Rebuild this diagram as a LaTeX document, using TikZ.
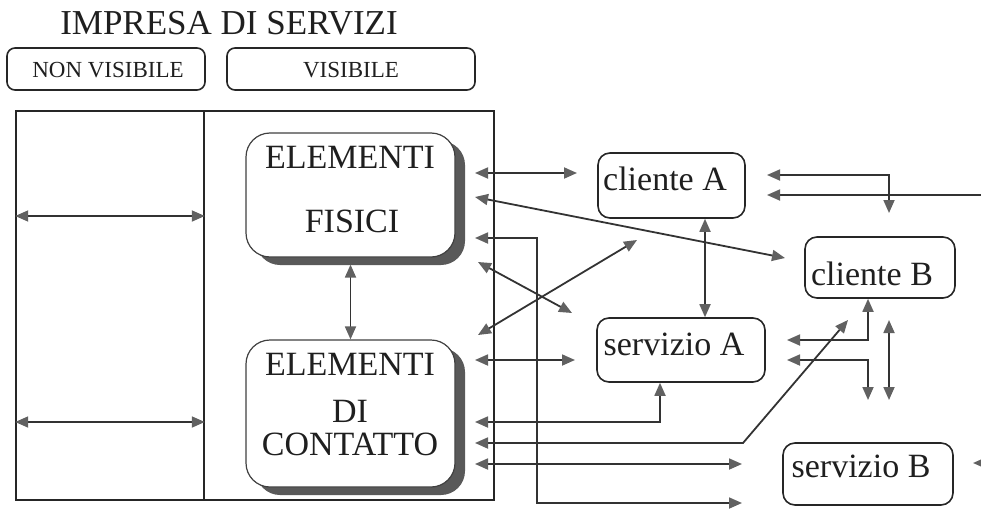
\documentclass[tikz,border=0pt]{standalone}
\usepackage{fontspec}
\setmainfont{Liberation Serif}
\usetikzlibrary{arrows.meta,calc}
\begin{document}
\begin{tikzpicture}[x=1pt,y=-1pt,
  >={Triangle[length=13pt,width=11pt,color=black!62]},
  ln/.style={draw=black!80, line width=1.8pt},
  frame/.style={draw=black!85, line width=1.6pt, inner sep=0pt},
  lbox/.style={draw=black!85, line width=1.6pt, rounded corners=8pt, inner sep=0pt},
  cbox/.style={draw=black!85, line width=1.6pt, rounded corners=12pt, fill=white, inner sep=0pt},
  ebox/.style={draw=black!75, line width=1.2pt, rounded corners=24pt, fill=white, inner sep=0pt},
  shadowfill/.style={fill=black!65, rounded corners=24pt},
  title/.style={font=\fontsize{35}{42}\selectfont, text=black!88, anchor=base, inner sep=0pt},
  big/.style={font=\fontsize{34}{40}\selectfont, text=black!88, anchor=base, inner sep=0pt},
  small/.style={font=\fontsize{23}{27}\selectfont, text=black!88, anchor=base, inner sep=0pt},
]
\useasboundingbox (0,0) rectangle (981,511);

% title and header boxes
\node[title] (ttl) at (229,35) {IMPRESA DI SERVIZI};
\node[lbox, minimum width=198pt, minimum height=42pt] (nvbox) at (106,69) {};
\node[small] (nvtxt) at (108,77) {NON VISIBILE};
\node[lbox, minimum width=248pt, minimum height=42pt] (vbox) at (351,69) {};
\node[small] (vtxt) at (351,77) {VISIBILE};

% outer frame: two columns
\node[frame, minimum width=188pt, minimum height=389pt] (ncol) at (110,305.5) {};
\node[frame, minimum width=290pt, minimum height=389pt] (vcol) at (349,305.5) {};

% element boxes with shadows
\fill[shadowfill] (256,141) rectangle (465,265);
\node[ebox, minimum width=209pt, minimum height=124pt] (ef) at (350.5,195) {};
\node[big] (ef1) at (350,168) {ELEMENTI};
\node[big] (ef2) at (352,232) {FISICI};

\fill[shadowfill] (256,348) rectangle (465,495);
\node[ebox, minimum width=209pt, minimum height=147pt] (ec) at (350.5,413.5) {};
\node[big] (ec1) at (350,375) {ELEMENTI};
\node[big] (ec2) at (350,422) {DI};
\node[big] (ec3) at (350,455) {CONTATTO};

% right-hand boxes
\node[cbox, minimum width=147pt, minimum height=65pt] (cA) at (671.5,185.5) {};
\node[big] (cAt) at (665,190) {cliente A};
\node[cbox, minimum width=150pt, minimum height=61pt] (cB) at (880,267.5) {};
\node[big] (cBt) at (872,285) {cliente B};
\node[cbox, minimum width=168pt, minimum height=64pt] (sA) at (681,350) {};
\node[big] (sAt) at (674,355) {servizio A};
\node[cbox, minimum width=170pt, minimum height=62pt] (sB) at (868,474) {};
\node[big] (sBt) at (861,477) {servizio B};

% free-end coordinates
\coordinate (a1) at (475,173);  \coordinate (b1) at (577,173);
\coordinate (a2) at (475,197);  \coordinate (b2) at (785,258);
\coordinate (a3) at (475,238);  \coordinate (k3) at (537,238);
\coordinate (m3) at (537,503);  \coordinate (b3) at (742,503);
\coordinate (a4) at (478,262);  \coordinate (b4) at (572,313);
\coordinate (a5) at (478,335);  \coordinate (b5) at (637,240);
\coordinate (a6) at (475,360);  \coordinate (b6) at (575,360);
\coordinate (a7) at (475,422);  \coordinate (k7) at (660,422);
\coordinate (a8) at (475,443);  \coordinate (k8) at (743,443);
\coordinate (b8) at (848,320);
\coordinate (a9) at (475,464);  \coordinate (b9) at (742,464);
\coordinate (xa) at (705,0);
\coordinate (c1) at (767,175);  \coordinate (k1) at (889,175);
\coordinate (d1) at (889,213);
\coordinate (c2) at (767,195);  \coordinate (e2) at (981,195);
\coordinate (k5) at (868,340);  \coordinate (c5) at (787,340);
\coordinate (c6) at (787,360);  \coordinate (k6) at (868,360);
\coordinate (d6) at (868,400);
\coordinate (u7) at (889,320);  \coordinate (d7) at (889,400);
\coordinate (c8) at (973,463);  \coordinate (e8) at (981,463);

% left column arrows
\draw[ln,<->] (ncol.west |- 0,216) -- (ncol.east |- 0,216);
\draw[ln,<->] (ncol.west |- 0,422) -- (ncol.east |- 0,422);

% between element boxes
\draw[ln,<->] ([yshift=-7pt]ef.south) -- (ec.north);

% connectors from element boxes
\draw[ln,<->] (a1) -- (b1);
\draw[ln,<->] (a2) -- (b2);
\draw[ln,<->] (a3) -- (k3) -- (m3) -- (b3);
\draw[ln,<->] (a4) -- (b4);
\draw[ln,<->] (a5) -- (b5);
\draw[ln,<->] (a6) -- (b6);
\draw[ln,<->] (a7) -- (k7) -- (sA.south -| k7);
\draw[ln,<->] (a8) -- (k8) -- (b8);
\draw[ln,<->] (a9) -- (b9);

% cliente A <-> servizio A
\draw[ln,<->] (cA.south -| xa) -- (sA.north -| xa);

% right cluster
\draw[ln,<->] (c1) -- (k1) -- (d1);
\draw[ln,<-] (c2) -- (e2);
\draw[ln,<->] (cB.south -| k5) -- (k5) -- (c5);
\draw[ln,<->] (c6) -- (k6) -- (d6);
\draw[ln,<->] (u7) -- (d7);
\draw[ln,<-] (c8) -- (e8);
\end{tikzpicture}
\end{document}
